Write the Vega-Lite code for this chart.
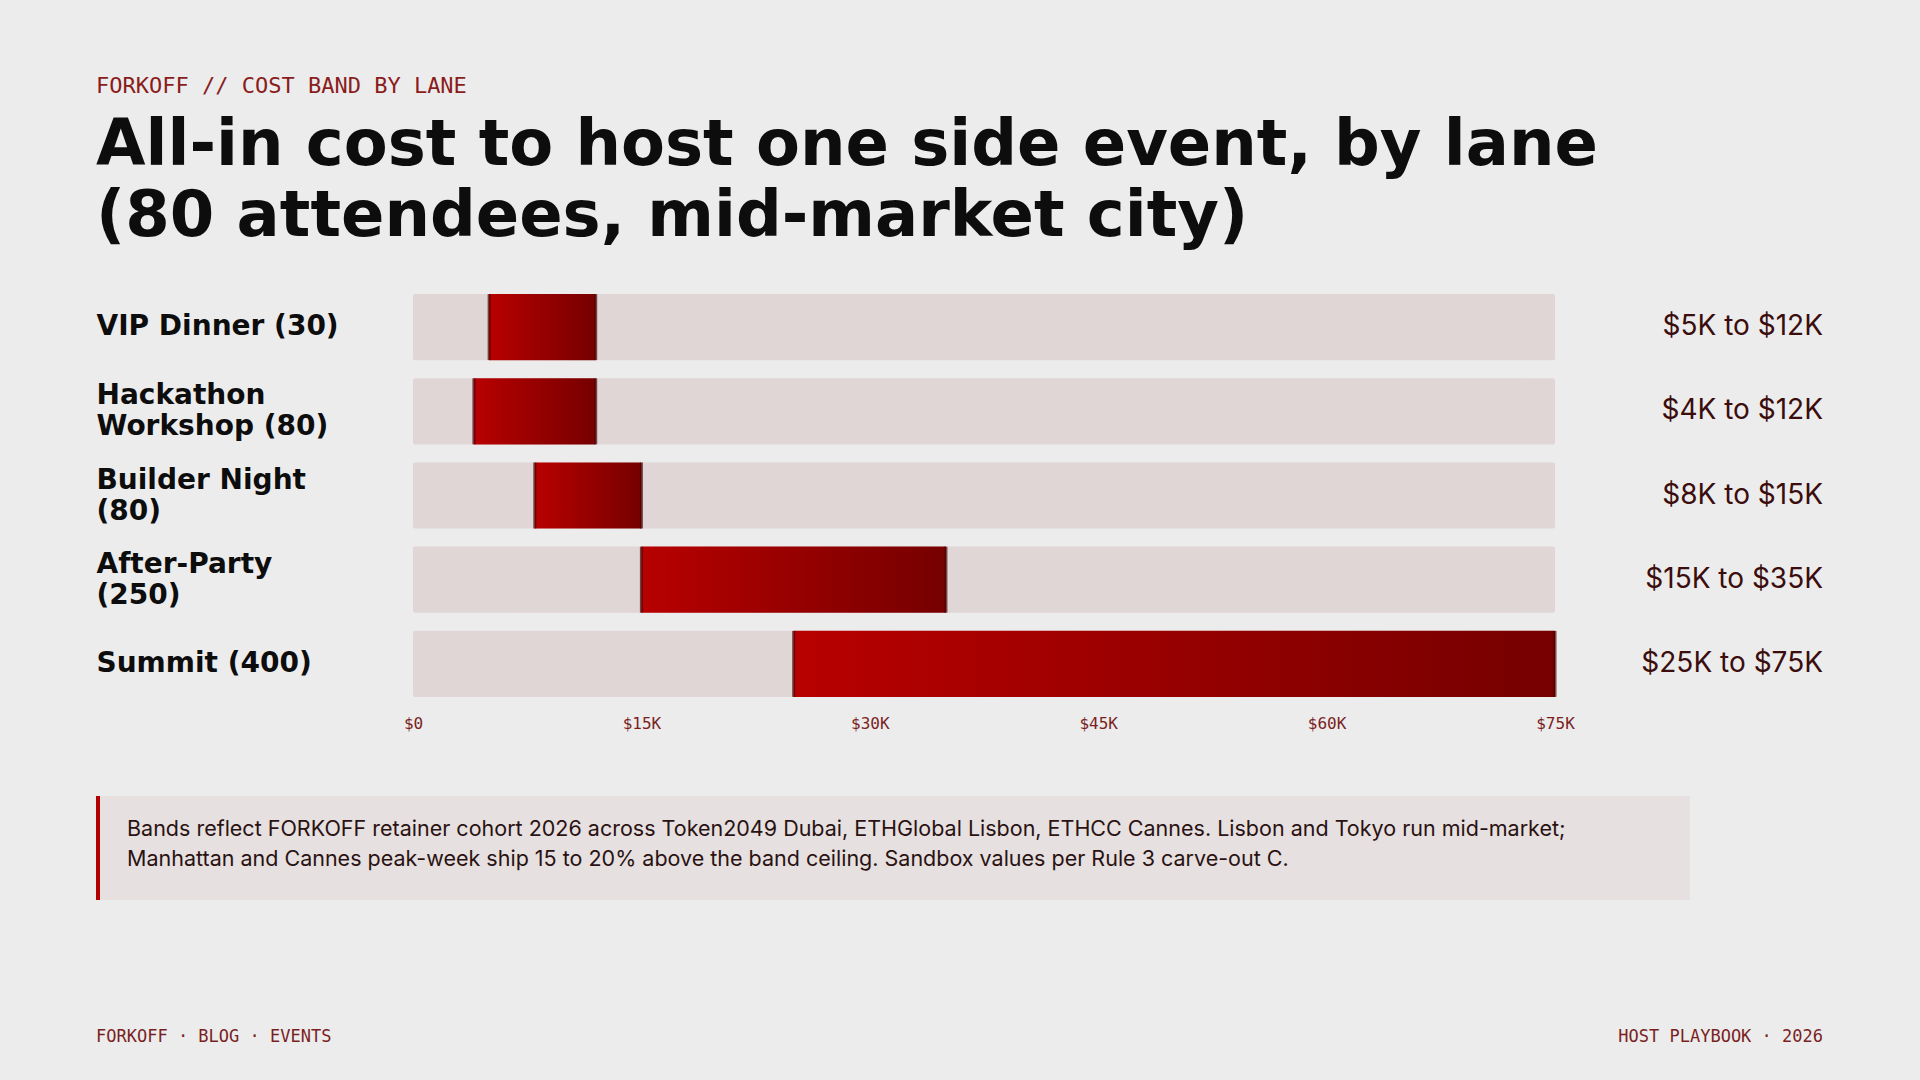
{
  "$schema": "https://vega.github.io/schema/vega-lite/v6.json",
  "width": 1142,
  "height": 403,
  "autosize": {"type": "none"},
  "padding": {"left": 413, "top": 294, "right": 365, "bottom": 383},
  "background": "#ececec",
  "config": {"view": {"stroke": null}},
  "title": {
    "text": "FORKOFF // COST BAND BY LANE",
    "subtitle": ["All-in cost to host one side event, by lane", "(80 attendees, mid-market city)"],
    "anchor": "start",
    "frame": "bounds",
    "font": "DejaVu Sans Mono",
    "fontSize": 22,
    "fontWeight": 400,
    "color": "#8a1c1c",
    "subtitleFont": "DejaVu Sans",
    "subtitleFontSize": 64,
    "subtitleFontWeight": "bold",
    "subtitleColor": "#0d0d0d",
    "subtitleLineHeight": 71,
    "subtitlePadding": 16,
    "offset": 44
  },
  "datasets": {
    "lanes": [
      {"lane": "VIP Dinner (30)", "lo": 5000, "hi": 12000, "range": "$5K to $12K"},
      {"lane": "Hackathon\nWorkshop (80)", "lo": 4000, "hi": 12000, "range": "$4K to $12K"},
      {"lane": "Builder Night\n(80)", "lo": 8000, "hi": 15000, "range": "$8K to $15K"},
      {"lane": "After-Party\n(250)", "lo": 15000, "hi": 35000, "range": "$15K to $35K"},
      {"lane": "Summit (400)", "lo": 25000, "hi": 75000, "range": "$25K to $75K"}
    ],
    "note": [
      {"lines": ["Bands reflect FORKOFF retainer cohort 2026 across Token2049 Dubai, ETHGlobal Lisbon, ETHCC Cannes. Lisbon and Tokyo run mid-market;", "Manhattan and Cannes peak-week ship 15 to 20% above the band ceiling. Sandbox values per Rule 3 carve-out C."]}
    ],
    "footLeft": [{"text": "FORKOFF · BLOG · EVENTS"}],
    "footRight": [{"text": "HOST PLAYBOOK · 2026"}]
  },
  "layer": [
    {
      "data": {"name": "lanes"},
      "mark": {"type": "bar", "color": "#e0d6d6", "cornerRadius": 2},
      "encoding": {
        "y": {
          "field": "lane", "type": "nominal", "sort": null,
          "scale": {"paddingInner": 0.214, "paddingOuter": 0},
          "axis": {
            "title": null, "orient": "left", "ticks": false, "tickSize": 0, "domain": false,
            "labelAlign": "left", "labelPadding": 317, "labelBaseline": "middle",
            "labelOffset": {"condition": {"test": "indexof(datum.value, '\\n') >= 0", "value": -15}, "value": 0},
            "labelExpr": "split(datum.label, '\\n')",
            "labelFont": "DejaVu Sans", "labelFontSize": 28, "labelFontWeight": "bold",
            "labelColor": "#0d0d0d", "labelLineHeight": 31, "labelLimit": 400
          }
        },
        "x": {"datum": 0, "type": "quantitative", "scale": {"domain": [0, 75000], "nice": false}},
        "x2": {"datum": 75000}
      }
    },
    {
      "data": {"name": "lanes"},
      "mark": {
        "type": "bar",
        "color": {
          "gradient": "linear", "x1": 0, "x2": 1, "y1": 0, "y2": 0,
          "stops": [{"offset": 0, "color": "#b80000"}, {"offset": 1, "color": "#760000"}]
        }
      },
      "encoding": {
        "y": {"field": "lane", "type": "nominal", "sort": null},
        "x": {
          "field": "lo", "type": "quantitative",
          "axis": {
            "title": null, "values": [0, 15000, 30000, 45000, 60000, 75000],
            "labelExpr": "datum.value == 0 ? '$0' : '$' + (datum.value / 1000) + 'K'",
            "ticks": false, "tickSize": 0, "domain": false, "grid": false,
            "labelFont": "DejaVu Sans Mono", "labelFontSize": 16, "labelColor": "#7a1f1f",
            "labelPadding": 18, "labelFlush": false
          }
        },
        "x2": {"field": "hi"}
      }
    },
    {
      "data": {"name": "lanes"},
      "mark": {"type": "tick", "color": "#4a0000", "thickness": 3, "size": 66},
      "encoding": {
        "y": {"field": "lane", "type": "nominal", "sort": null},
        "x": {"field": "lo", "type": "quantitative"}
      }
    },
    {
      "data": {"name": "lanes"},
      "mark": {"type": "tick", "color": "#4a0000", "thickness": 3, "size": 66},
      "encoding": {
        "y": {"field": "lane", "type": "nominal", "sort": null},
        "x": {"field": "hi", "type": "quantitative"}
      }
    },
    {
      "data": {"name": "lanes"},
      "mark": {"type": "text", "align": "right", "baseline": "middle", "dx": 268, "font": "Inter", "fontSize": 28, "color": "#3b0d0d"},
      "encoding": {
        "y": {"field": "lane", "type": "nominal", "sort": null},
        "x": {"datum": 75000, "type": "quantitative"},
        "text": {"field": "range"}
      }
    },
    {
      "data": {"name": "note"},
      "mark": {"type": "rect", "color": "#e6e0e0"},
      "encoding": {
        "x": {"value": -317}, "x2": {"value": 1277},
        "y": {"value": 502}, "y2": {"value": 606}
      }
    },
    {
      "data": {"name": "note"},
      "mark": {"type": "rect", "color": "#b00000"},
      "encoding": {
        "x": {"value": -317}, "x2": {"value": -313},
        "y": {"value": 502}, "y2": {"value": 606}
      }
    },
    {
      "data": {"name": "note"},
      "mark": {"type": "text", "align": "left", "baseline": "middle", "font": "Inter", "fontSize": 21.5, "lineHeight": 30, "color": "#2a1212"},
      "encoding": {
        "x": {"value": -286}, "y": {"value": 536},
        "text": {"field": "lines"}
      }
    },
    {
      "data": {"name": "footLeft"},
      "mark": {"type": "text", "align": "left", "baseline": "middle", "font": "DejaVu Sans Mono", "fontSize": 17, "color": "#7a1f1f"},
      "encoding": {
        "x": {"value": -317}, "y": {"value": 743},
        "text": {"field": "text"}
      }
    },
    {
      "data": {"name": "footRight"},
      "mark": {"type": "text", "align": "right", "baseline": "middle", "font": "DejaVu Sans Mono", "fontSize": 17, "color": "#7a1f1f"},
      "encoding": {
        "x": {"value": 1410}, "y": {"value": 743},
        "text": {"field": "text"}
      }
    }
  ]
}
